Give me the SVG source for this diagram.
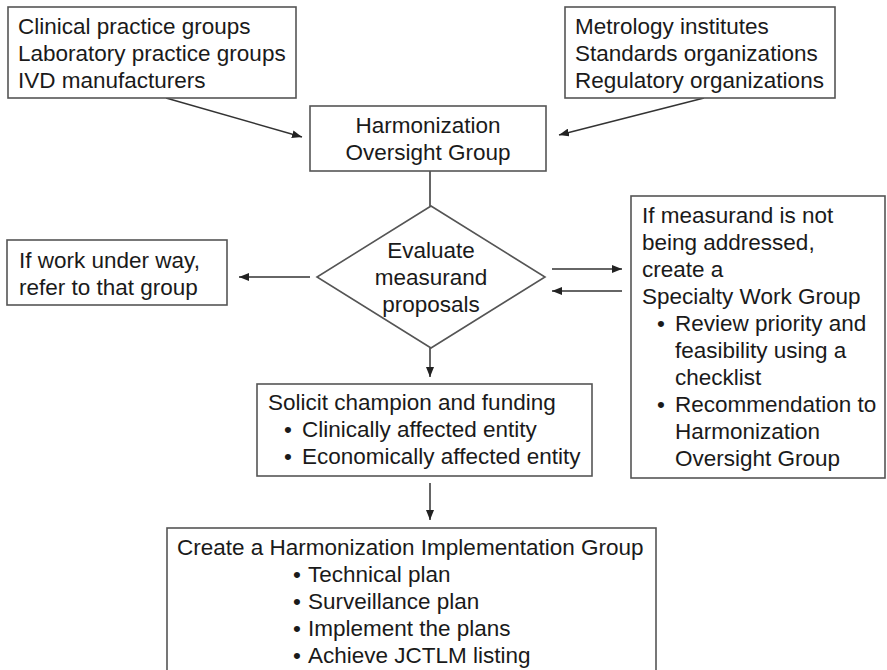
<svg xmlns="http://www.w3.org/2000/svg" width="887" height="670" viewBox="0 0 887 670">
<defs>
<style>
.box{fill:#fff;stroke:#555;stroke-width:1.6}
.t{font-family:"Liberation Sans",Arial,sans-serif;font-size:22.5px;fill:#1a1a1a}
.c{text-anchor:middle}
.ln{stroke:#333;stroke-width:1.5;fill:none;marker-end:url(#ah)}
</style>
<marker id="ah" viewBox="0 0 10 8" refX="10" refY="4" markerWidth="10" markerHeight="8" markerUnits="userSpaceOnUse" orient="auto">
<path d="M0,0 L10,4 L0,8 z" fill="#222"/>
</marker>
</defs>
<rect width="887" height="670" fill="#fff"/>
<g id="connectors">
<line class="ln" x1="166" y1="98" x2="302" y2="137"/>
<line class="ln" x1="704" y1="98" x2="559" y2="135"/>
<line x1="430" y1="171" x2="430" y2="206" stroke="#333" stroke-width="1.5"/>
<line class="ln" x1="310" y1="277" x2="239" y2="277"/>
<line class="ln" x1="552" y1="269" x2="622" y2="269"/>
<line class="ln" x1="622" y1="291" x2="552" y2="291"/>
<line class="ln" x1="430" y1="348" x2="430" y2="377"/>
<line class="ln" x1="430" y1="483" x2="430" y2="520"/>
</g>
<g id="sources-left">
<rect class="box" x="8" y="7" width="288" height="91"/>
<text class="t" x="18" y="34">Clinical practice groups</text>
<text class="t" x="18" y="61">Laboratory practice groups</text>
<text class="t" x="18" y="88">IVD manufacturers</text>
</g>
<g id="sources-right">
<rect class="box" x="565" y="7" width="270" height="91"/>
<text class="t" x="575" y="34">Metrology institutes</text>
<text class="t" x="575" y="61">Standards organizations</text>
<text class="t" x="575" y="88">Regulatory organizations</text>
</g>
<g id="oversight">
<rect class="box" x="310" y="106" width="236" height="65"/>
<text class="t c" x="428" y="133">Harmonization</text>
<text class="t c" x="428" y="160">Oversight Group</text>
</g>
<g id="evaluate">
<polygon class="box" points="431,206 545,277 431,348 317,277"/>
<text class="t c" x="431" y="258">Evaluate</text>
<text class="t c" x="431" y="285">measurand</text>
<text class="t c" x="431" y="312">proposals</text>
</g>
<g id="underway">
<rect class="box" x="7" y="240" width="220" height="65"/>
<text class="t" x="19" y="268">If work under way,</text>
<text class="t" x="19" y="295">refer to that group</text>
</g>
<g id="specialty">
<rect class="box" x="631" y="196" width="254" height="282"/>
<text class="t" x="642" y="223">If measurand is not</text>
<text class="t" x="642" y="250">being addressed,</text>
<text class="t" x="642" y="277">create a</text>
<text class="t" x="642" y="304">Specialty Work Group</text>
<text class="t" x="657" y="331">•</text>
<text class="t" x="675" y="331">Review priority and</text>
<text class="t" x="675" y="358">feasibility using a</text>
<text class="t" x="675" y="385">checklist</text>
<text class="t" x="657" y="412">•</text>
<text class="t" x="675" y="412">Recommendation to</text>
<text class="t" x="675" y="439">Harmonization</text>
<text class="t" x="675" y="466">Oversight Group</text>
</g>
<g id="solicit">
<rect class="box" x="257" y="384" width="335" height="92"/>
<text class="t" x="268" y="410">Solicit champion and funding</text>
<text class="t" x="284" y="437">•</text>
<text class="t" x="302" y="437">Clinically affected entity</text>
<text class="t" x="284" y="464">•</text>
<text class="t" x="302" y="464">Economically affected entity</text>
</g>
<g id="implementation">
<rect class="box" x="167" y="528" width="489" height="160"/>
<text class="t" x="177" y="555">Create a Harmonization Implementation Group</text>
<text class="t" x="293" y="582">•</text>
<text class="t" x="308" y="582">Technical plan</text>
<text class="t" x="293" y="609">•</text>
<text class="t" x="308" y="609">Surveillance plan</text>
<text class="t" x="293" y="636">•</text>
<text class="t" x="308" y="636">Implement the plans</text>
<text class="t" x="293" y="663">•</text>
<text class="t" x="308" y="663">Achieve JCTLM listing</text>
</g>
</svg>
